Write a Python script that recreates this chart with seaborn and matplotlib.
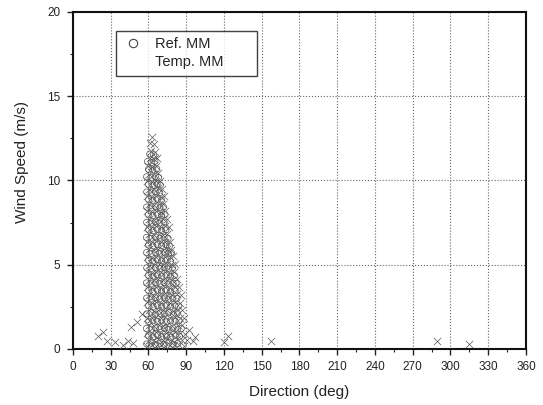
import numpy as np
import pandas as pd
import matplotlib
matplotlib.use("Agg")
import matplotlib.pyplot as plt
from matplotlib.lines import Line2D
from matplotlib.ticker import MultipleLocator
import seaborn as sns

# Ref. MM samples (direction deg, wind speed m/s)
ref_points = [
    (58.6, 0.30), (62.1, 0.35), (65.7, 0.25), (69.2, 0.32), (72.4, 0.28), (76.1, 0.36), (79.6, 0.27), (83.2, 0.33),
    (59.9, 0.78), (63.6, 0.72), (67.2, 0.80), (70.4, 0.74), (74.1, 0.77), (77.7, 0.71), (81.2, 0.79), (84.6, 0.75),
    (58.4, 1.22), (62.2, 1.17), (65.6, 1.25), (69.1, 1.19), (72.6, 1.23), (76.2, 1.16), (79.4, 1.24), (83.1, 1.18), (86.0, 1.21),
    (60.1, 1.62), (63.4, 1.68), (67.1, 1.63), (70.6, 1.70), (74.2, 1.61), (77.4, 1.67), (81.1, 1.64), (84.4, 1.69),
    (58.6, 2.08), (62.0, 2.14), (65.5, 2.06), (69.3, 2.12), (72.5, 2.09), (76.0, 2.15), (79.7, 2.07), (83.0, 2.13),
    (60.0, 2.57), (63.7, 2.52), (67.0, 2.59), (70.5, 2.53), (74.1, 2.58), (77.6, 2.51), (81.0, 2.56), (84.0, 2.54),
    (58.5, 3.02), (62.2, 2.97), (65.4, 3.04), (69.0, 2.98), (72.6, 3.03), (76.1, 2.96), (79.4, 3.01), (82.6, 2.99),
    (60.2, 3.47), (63.5, 3.42), (67.1, 3.49), (70.4, 3.44), (74.0, 3.48), (77.5, 3.41), (80.9, 3.46),
    (58.4, 3.92), (62.1, 3.87), (65.6, 3.94), (69.1, 3.88), (72.4, 3.93), (76.0, 3.86), (79.5, 3.91), (82.0, 3.89),
    (60.0, 4.37), (63.6, 4.32), (67.0, 4.39), (70.6, 4.33), (74.1, 4.38), (77.4, 4.31), (80.6, 4.36),
    (58.6, 4.82), (62.0, 4.77), (65.5, 4.84), (69.2, 4.78), (72.5, 4.83), (76.1, 4.76), (79.0, 4.81),
    (60.1, 5.27), (63.4, 5.22), (67.2, 5.29), (70.5, 5.23), (74.0, 5.28), (77.5, 5.21),
    (58.5, 5.72), (62.1, 5.67), (65.6, 5.74), (69.0, 5.68), (72.6, 5.73), (76.0, 5.66), (78.2, 5.71),
    (60.0, 6.17), (63.5, 6.12), (67.1, 6.19), (70.4, 6.13), (74.0, 6.18), (76.6, 6.11),
    (58.4, 6.62), (62.0, 6.57), (65.5, 6.64), (69.1, 6.58), (72.4, 6.63), (75.6, 6.56),
    (60.1, 7.07), (63.6, 7.02), (67.0, 7.09), (70.5, 7.03), (73.9, 7.08),
    (58.6, 7.52), (62.1, 7.47), (65.4, 7.54), (69.0, 7.48), (72.4, 7.53),
    (60.0, 7.97), (63.5, 7.92), (67.1, 7.99), (70.4, 7.93), (73.0, 7.98),
    (58.5, 8.42), (62.0, 8.37), (65.6, 8.44), (69.1, 8.38), (71.8, 8.43),
    (60.1, 8.87), (63.4, 8.82), (67.0, 8.89), (70.3, 8.83),
    (58.6, 9.32), (62.1, 9.27), (65.5, 9.34), (68.9, 9.28),
    (60.0, 9.77), (63.5, 9.72), (66.9, 9.79), (69.4, 9.73),
    (58.5, 10.22), (62.0, 10.17), (65.4, 10.24), (68.0, 10.18),
    (60.1, 10.67), (63.4, 10.62), (66.5, 10.69),
    (59.2, 11.12), (62.6, 11.07), (65.1, 11.14),
    (61.0, 11.57), (64.0, 11.52),
]

# Temp. MM samples (direction deg, wind speed m/s)
temp_points = [
    (59.0, 0.20), (62.5, 0.24), (66.1, 0.18), (70.0, 0.22), (73.4, 0.19), (77.1, 0.23), (80.5, 0.21), (84.6, 0.25), (88.2, 0.20),
    (60.4, 0.56), (64.1, 0.52), (67.9, 0.58), (71.6, 0.54), (75.1, 0.57), (78.9, 0.53), (82.6, 0.59), (86.4, 0.55), (90.6, 0.51),
    (59.1, 0.96), (62.4, 0.92), (66.0, 0.98), (70.1, 0.94), (73.6, 0.97), (77.0, 0.93), (81.1, 0.99), (85.0, 0.95), (89.2, 0.91),
    (60.5, 1.41), (64.0, 1.37), (68.1, 1.43), (71.4, 1.39), (75.1, 1.42), (79.0, 1.38), (83.1, 1.44), (87.0, 1.40),
    (59.0, 1.86), (62.6, 1.82), (66.1, 1.88), (69.9, 1.84), (73.5, 1.87), (77.1, 1.83), (81.0, 1.89), (85.4, 1.85), (88.1, 1.81),
    (60.4, 2.31), (64.1, 2.27), (67.9, 2.33), (71.6, 2.29), (75.0, 2.32), (79.1, 2.28), (83.0, 2.34), (86.9, 2.30),
    (59.1, 2.76), (62.4, 2.72), (66.0, 2.78), (70.1, 2.74), (73.4, 2.77), (77.0, 2.73), (81.1, 2.79), (85.0, 2.75),
    (60.5, 3.21), (64.0, 3.17), (68.1, 3.23), (71.5, 3.19), (75.1, 3.22), (79.0, 3.18), (83.0, 3.24), (86.1, 3.20),
    (59.0, 3.66), (62.6, 3.62), (66.1, 3.68), (69.9, 3.64), (73.5, 3.67), (77.1, 3.63), (81.0, 3.69), (84.1, 3.65),
    (60.4, 4.11), (64.1, 4.07), (67.9, 4.13), (71.6, 4.09), (75.0, 4.12), (79.0, 4.08), (82.4, 4.14),
    (59.1, 4.56), (62.4, 4.52), (66.0, 4.58), (70.1, 4.54), (73.4, 4.57), (77.0, 4.53), (80.6, 4.59),
    (60.5, 5.01), (64.0, 4.97), (68.1, 5.03), (71.5, 4.99), (75.1, 5.02), (78.6, 4.98), (81.0, 5.04),
    (59.0, 5.46), (62.6, 5.42), (66.1, 5.48), (69.9, 5.44), (73.5, 5.47), (77.1, 5.43), (79.4, 5.49),
    (60.4, 5.91), (64.1, 5.87), (67.9, 5.93), (71.6, 5.89), (75.0, 5.92), (78.1, 5.88),
    (59.1, 6.36), (62.4, 6.32), (66.0, 6.38), (70.1, 6.34), (73.4, 6.37), (77.0, 6.33),
    (60.5, 6.81), (64.0, 6.77), (68.1, 6.83), (71.5, 6.79), (75.1, 6.82),
    (59.0, 7.26), (62.6, 7.22), (66.1, 7.28), (69.9, 7.24), (73.5, 7.27), (76.1, 7.23),
    (60.4, 7.71), (64.1, 7.67), (67.9, 7.73), (71.6, 7.69), (74.4, 7.72),
    (59.1, 8.16), (62.4, 8.12), (66.0, 8.18), (70.1, 8.14), (73.0, 8.17),
    (60.5, 8.61), (64.0, 8.57), (68.1, 8.63), (71.5, 8.59),
    (59.0, 9.06), (62.6, 9.02), (66.1, 9.08), (69.9, 9.04), (72.1, 9.07),
    (60.4, 9.51), (64.1, 9.47), (67.9, 9.53), (70.6, 9.49),
    (59.1, 9.96), (62.4, 9.92), (66.0, 9.98), (69.1, 9.94),
    (60.5, 10.41), (64.0, 10.37), (67.6, 10.43),
    (59.6, 10.86), (63.0, 10.82), (66.1, 10.88),
    (61.0, 11.31), (64.6, 11.27), (67.0, 11.33),
    (62.1, 11.76), (65.1, 11.72),
    (61.5, 12.21), (64.0, 12.17),
    (62.5, 12.60),
    # scattered low-speed readings
    (20.0, 0.80), (23.5, 1.00), (27.0, 0.50), (33.0, 0.40), (40.0, 0.25), (44.0, 0.50),
    (48.0, 0.35), (46.0, 1.30), (51.0, 1.60), (55.0, 2.10), (92.0, 1.10), (95.0, 0.50),
    (97.0, 0.70), (120.0, 0.40), (123.0, 0.80), (157.0, 0.50), (289.0, 0.50), (315.0, 0.30),
]

x_ticks = [0, 30, 60, 90, 120, 150, 180, 210, 240, 270, 300, 330, 360]
y_ticks = [0, 5, 10, 15, 20]

ref_df = pd.DataFrame(ref_points, columns=["Direction", "Speed"])
temp_df = pd.DataFrame(temp_points, columns=["Direction", "Speed"])

sns.set_style("ticks")
plt.rcParams["font.family"] = ["Liberation Sans", "DejaVu Sans"]

fig = plt.figure(figsize=(5.43, 4.05), dpi=100)
ax = fig.add_axes([0.1344, 0.1383, 0.8343, 0.8321])

sns.scatterplot(data=temp_df, x="Direction", y="Speed", marker="x", s=28,
                color="#5a5a5a", linewidth=0.5, ax=ax, zorder=3)
sns.scatterplot(data=ref_df, x="Direction", y="Speed", marker="o", s=20,
                facecolor="none", edgecolor="#555555", linewidth=0.5, ax=ax, zorder=4)

ax.set_xlim(0, 360)
ax.set_ylim(0, 20)
ax.set_xticks(x_ticks)
ax.set_yticks(y_ticks)
ax.xaxis.set_minor_locator(MultipleLocator(15))
ax.yaxis.set_minor_locator(MultipleLocator(2.5))
ax.tick_params(which="major", direction="out", length=4, width=1.0, pad=5,
               labelsize=8.5, colors="#222222")
ax.tick_params(which="minor", direction="out", length=2.5, width=0.8)
ax.grid(True, which="major", ls=":", color="#666666", lw=0.8, zorder=0)
for sp in ax.spines.values():
    sp.set_visible(True)
    sp.set_linewidth(1.5)
    sp.set_color("#111111")

ax.set_xlabel("Direction (deg)", fontsize=11, color="#222222")
ax.set_ylabel("Wind Speed (m/s)", fontsize=11, color="#222222")
ax.xaxis.set_label_coords(0.5, -0.108)
ax.yaxis.set_label_coords(-0.098, 0.555)

handles = [
    Line2D([], [], marker="o", ls="", mfc="none", mec="#444444", mew=0.8, ms=6),
    Line2D([], [], marker="", ls=""),
]
leg = ax.legend(handles, ["Ref. MM", "Temp. MM"], loc="upper left",
                bbox_to_anchor=(0.095, 0.798, 0.311, 0.146), mode="expand",
                fontsize=10.5, frameon=True, fancybox=False, edgecolor="#111111",
                handlelength=1.4, handletextpad=0.8, borderpad=0.45,
                labelspacing=0.25, borderaxespad=0)
leg.get_frame().set_linewidth(1.0)

fig.savefig("out.png", dpi=100)
